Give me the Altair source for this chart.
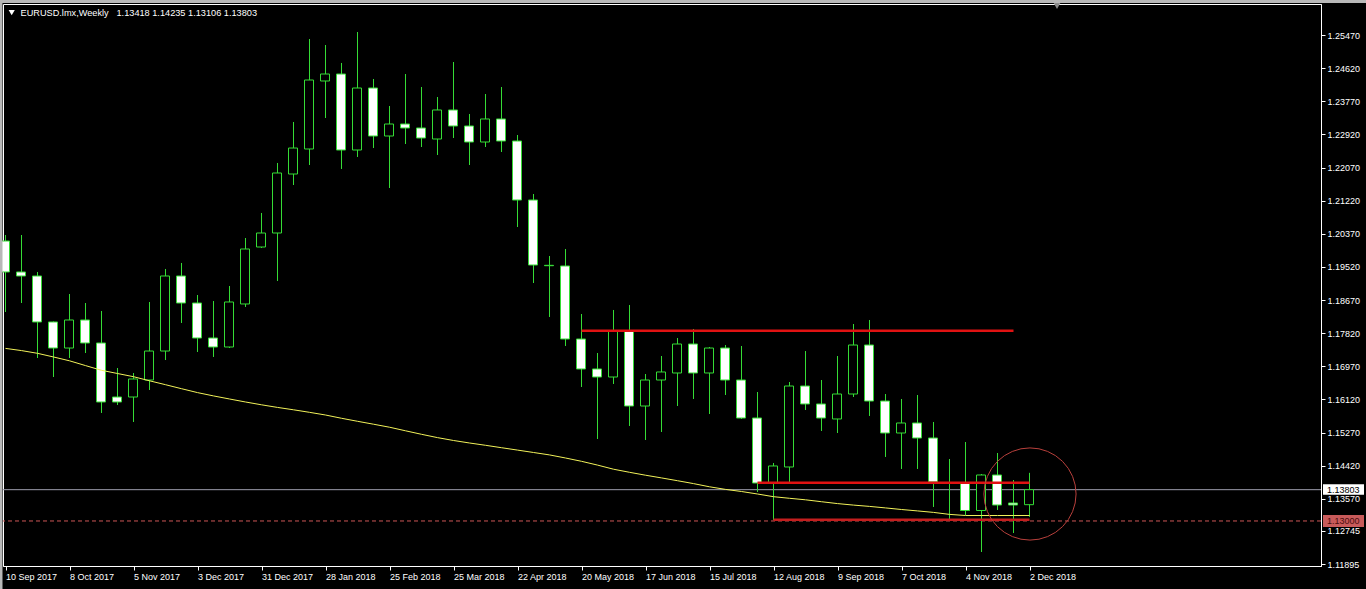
import altair as alt
import pandas as pd

# ---- weekly EURUSD candles (10 Sep 2017 .. 2 Dec 2018) ----
opens = [
    1.20184, 1.19389, 1.19286, 1.18106, 1.17438, 1.18157, 1.17567, 1.16181, 1.16181, 1.16617,
    1.17361, 1.19286, 1.18593, 1.17695, 1.17464, 1.18568, 1.20030, 1.20389, 1.21903, 1.22545,
    1.24290, 1.24469, 1.22519, 1.24110, 1.22878, 1.23186, 1.23084, 1.22801, 1.23546, 1.23135,
    1.22724, 1.23315, 1.22750, 1.21236, 1.19560, 1.19543, 1.17669, 1.16900, 1.16694, 1.17875,
    1.15950, 1.16617, 1.16797, 1.17541, 1.16797, 1.17438, 1.16617, 1.15642, 1.13974, 1.14385,
    1.16463, 1.16002, 1.15617, 1.16258, 1.17515, 1.16078, 1.15257, 1.15514, 1.15129, 1.13974,
    1.13974, 1.13269, 1.14180, 1.13461, 1.13418,
]
highs = [
    1.20338, 1.20338, 1.19389, 1.18120, 1.18824, 1.18593, 1.18388, 1.16925, 1.16797, 1.18619,
    1.19466, 1.19620, 1.18798, 1.18644, 1.19029, 1.20261, 1.20903, 1.22186, 1.23238, 1.25367,
    1.25213, 1.24752, 1.25547, 1.24341, 1.23648, 1.24469, 1.24136, 1.23879, 1.24777, 1.23443,
    1.23956, 1.24136, 1.22904, 1.21390, 1.19799, 1.19979, 1.18311, 1.17310, 1.18414, 1.18542,
    1.16771, 1.17233, 1.17695, 1.17926, 1.17464, 1.17515, 1.17490, 1.16309, 1.14488, 1.16566,
    1.17361, 1.16617, 1.17233, 1.18054, 1.18157, 1.16258, 1.16130, 1.16232, 1.15540, 1.14590,
    1.15026, 1.14205, 1.14744, 1.14051, 1.14235,
]
lows = [
    1.18362, 1.18593, 1.17182, 1.16694, 1.17182, 1.17310, 1.15771, 1.15976, 1.15540, 1.16361,
    1.17130, 1.18080, 1.17336, 1.17208, 1.17438, 1.18491, 1.20004, 1.19158, 1.21621, 1.22134,
    1.23340, 1.22032, 1.22340, 1.22570, 1.21544, 1.22673, 1.22596, 1.22391, 1.22827, 1.22134,
    1.22596, 1.22468, 1.20543, 1.19106, 1.18234, 1.17490, 1.16438, 1.15103, 1.16515, 1.15437,
    1.15078, 1.15283, 1.15950, 1.16130, 1.15745, 1.16232, 1.15617, 1.13743, 1.13025, 1.13974,
    1.15848, 1.15309, 1.15257, 1.16181, 1.15694, 1.14642, 1.14334, 1.14334, 1.13359, 1.13030,
    1.13153, 1.12204, 1.13282, 1.12691, 1.13106,
]
closes = [
    1.19389, 1.19286, 1.18106, 1.17438, 1.18157, 1.17567, 1.16053, 1.16053, 1.16643, 1.17361,
    1.19286, 1.18593, 1.17695, 1.17464, 1.18619, 1.19979, 1.20389, 1.21929, 1.22570, 1.24315,
    1.24469, 1.22519, 1.24110, 1.22878, 1.23186, 1.23084, 1.22827, 1.23546, 1.23135, 1.22724,
    1.23315, 1.22750, 1.21236, 1.19568, 1.19550, 1.17669, 1.16900, 1.16694, 1.17875, 1.15950,
    1.16617, 1.16823, 1.17541, 1.16797, 1.17438, 1.16617, 1.15642, 1.13974, 1.14411, 1.16463,
    1.16002, 1.15642, 1.16258, 1.17515, 1.16078, 1.15257, 1.15514, 1.15129, 1.14000, 1.13987,
    1.13269, 1.14180, 1.13410, 1.13410, 1.13803,
]
# moving average drawn over the candles
moving_avg = [
    1.17428, 1.17372, 1.17302, 1.17208, 1.17110, 1.16987, 1.16866, 1.16784, 1.16702, 1.16597,
    1.16497, 1.16394, 1.16294, 1.16209, 1.16130, 1.16053, 1.15981, 1.15914, 1.15853, 1.15788,
    1.15719, 1.15635, 1.15558, 1.15483, 1.15406, 1.15314, 1.15224, 1.15139, 1.15065, 1.15001,
    1.14942, 1.14880, 1.14819, 1.14757, 1.14695, 1.14616, 1.14531, 1.14434, 1.14328, 1.14249,
    1.14174, 1.14105, 1.14033, 1.13959, 1.13877, 1.13810, 1.13756, 1.13692, 1.13623, 1.13582,
    1.13543, 1.13494, 1.13446, 1.13407, 1.13374, 1.13335, 1.13294, 1.13258, 1.13220, 1.13169,
    1.13140, 1.13140, 1.13140, 1.13140, 1.13140,
]

# date labels every 4th week
week_labels = [
    "10 Sep 2017", "8 Oct 2017", "5 Nov 2017", "3 Dec 2017", "31 Dec 2017", "28 Jan 2018",
    "25 Feb 2018", "25 Mar 2018", "22 Apr 2018", "20 May 2018", "17 Jun 2018", "15 Jul 2018",
    "12 Aug 2018", "9 Sep 2018", "7 Oct 2018", "4 Nov 2018", "2 Dec 2018",
]
price_ticks = [
    1.25470, 1.24620, 1.23770, 1.22920, 1.22070, 1.21220, 1.20370, 1.19520, 1.18670,
    1.17820, 1.16970, 1.16120, 1.15270, 1.14420, 1.13570, 1.12745, 1.11895,
]

# drawn objects: horizontal levels (start week, end week, price)
bright_levels = {"start": [36, 47], "end": [63, 64], "price": [1.17882, 1.13982]}
dark_levels = {"start": [48], "end": [64], "price": [1.13033]}
bid_price = closes[-1]
alert_price = 1.13000
ellipse_center = {"week": [64.03], "price": [1.13692]}

W, H = 1318, 562
GREEN = "#35dc35"
FONT = "Liberation Sans"

candles = pd.DataFrame({
    "week": list(range(len(opens))),
    "open": opens, "high": highs, "low": lows, "close": closes, "ma": moving_avg,
})

x_scale = alt.Scale(domain=[-0.15625, 82.21875], nice=False, zero=False)
y_scale = alt.Scale(domain=[1.1184454, 1.2626546], nice=False, zero=False)

label_array = "[" + ",".join("'" + s + "'" for s in week_labels) + "]"
x_axis = alt.Axis(
    values=list(range(0, 4 * len(week_labels), 4)),
    labelExpr=label_array + "[floor(datum.value / 4 + 0.5)]",
    labelAlign="left", labelBaseline="top", labelPadding=2, labelFlush=False,
    labelOverlap=False, labelColor="white", labelFont=FONT, labelFontSize=9,
    tickSize=4, tickColor="white", domainColor="white", grid=False, title=None,
)
y_axis = alt.Axis(
    orient="right", values=price_ticks, format=".5f", labelBaseline="middle",
    labelPadding=2, labelFlush=False, labelOverlap=False, labelColor="white",
    labelFont=FONT, labelFontSize=9, tickSize=4, tickColor="white",
    domainColor="white", grid=False, title=None,
)


def xq(field):
    return alt.X(f"{field}:Q", scale=x_scale, axis=x_axis)


def yq(field):
    return alt.Y(f"{field}:Q", scale=y_scale, axis=y_axis)


one_row = pd.DataFrame({"k": [0]})

# window chrome
top_band = alt.Chart(one_row).mark_rect(color="#b8b8b8").encode(
    x=alt.value(-3), x2=alt.value(W + 48), y=alt.value(-4), y2=alt.value(-1))
left_band = alt.Chart(one_row).mark_rect(color="#b8b8b8").encode(
    x=alt.value(-3), x2=alt.value(-0.5), y=alt.value(-4), y2=alt.value(H + 23))
shift_mark = alt.Chart(one_row).mark_point(
    shape="triangle-down", filled=True, color="#8a8a8a", size=45, opacity=1
).encode(x=alt.value(1054), y=alt.value(2))

bid_line = alt.Chart(pd.DataFrame({"price": [bid_price]})).mark_rule(
    color="#9c9cac", strokeWidth=1).encode(y=yq("price"))
alert_line = alt.Chart(pd.DataFrame({"price": [alert_price]})).mark_rule(
    color="#cc5555", strokeWidth=1, strokeDash=[4, 3]).encode(y=yq("price"))

wicks = alt.Chart(candles).mark_rule(color=GREEN, strokeWidth=1).encode(
    x=xq("week"), y=yq("low"), y2="high:Q")
bodies = alt.Chart(candles).mark_rect(
    xOffset=-5, x2Offset=4, stroke=GREEN, strokeWidth=1
).encode(
    x=xq("week"), x2="week:Q", y=yq("open"), y2="close:Q",
    fill=alt.condition("datum.open > datum.close", alt.value("white"), alt.value("black")),
)
ma_line = alt.Chart(candles).mark_line(color="#f2f25a", strokeWidth=1).encode(
    x=xq("week"), y=yq("ma"))

bright = alt.Chart(pd.DataFrame(bright_levels)).mark_rule(
    color="#e01212", strokeWidth=2.5).encode(x=xq("start"), x2="end:Q", y=yq("price"))
dark = alt.Chart(pd.DataFrame(dark_levels)).mark_rule(
    color="#c41e1e", strokeWidth=2.5).encode(x=xq("start"), x2="end:Q", y=yq("price"))
ellipse = alt.Chart(pd.DataFrame(ellipse_center)).mark_point(
    shape="circle", size=8495, filled=False, color="#b8403c", strokeWidth=1, opacity=1
).encode(x=xq("week"), y=yq("price"))

# price tags on the right scale
tags = pd.DataFrame({"price": [bid_price, alert_price]})
bid_tag = alt.Chart(tags.iloc[[0]]).mark_rect(fill="white", yOffset=-5.5, y2Offset=5).encode(
    x=alt.value(W + 2), x2=alt.value(W + 43), y=yq("price"), y2="price:Q")
bid_text = alt.Chart(tags.iloc[[0]]).mark_text(
    align="left", baseline="middle", font=FONT, fontSize=9, color="black").encode(
    x=alt.value(W + 6), y=yq("price"), text=alt.Text("price:Q", format=".5f"))
alert_tag = alt.Chart(tags.iloc[[1]]).mark_rect(fill="#c85a5a", yOffset=-6, y2Offset=6).encode(
    x=alt.value(W + 2), x2=alt.value(W + 43), y=yq("price"), y2="price:Q")
alert_text = alt.Chart(tags.iloc[[1]]).mark_text(
    align="left", baseline="middle", font=FONT, fontSize=9, color="#4a0c0c").encode(
    x=alt.value(W + 6), y=yq("price"), text=alt.Text("price:Q", format=".5f"))

# header: symbol, timeframe and OHLC of the last bar
ohlc_text = " ".join(f"{v:.5f}" for v in (opens[-1], highs[-1], lows[-1], closes[-1]))
arrow = alt.Chart(one_row).mark_point(
    shape="triangle-down", filled=True, color="white", size=38, opacity=1
).encode(x=alt.value(8.7), y=alt.value(8.6))
symbol = alt.Chart(one_row).mark_text(
    align="left", baseline="alphabetic", font=FONT, fontSize=9.2, color="white"
).encode(x=alt.value(17.5), y=alt.value(12), text=alt.value("EURUSD.lmx,Weekly"))
ohlc = alt.Chart(one_row).mark_text(
    align="left", baseline="alphabetic", font=FONT, fontSize=9.2, color="white"
).encode(x=alt.value(113.5), y=alt.value(12), text=alt.value(ohlc_text))

chart = alt.layer(
    bid_line, alert_line, wicks, bodies, ma_line, bright, dark, ellipse,
    bid_tag, bid_text, alert_tag, alert_text, top_band, left_band, shift_mark,
    arrow, symbol, ohlc,
).properties(
    width=W, height=H,
    padding={"left": 3, "top": 4, "right": 45, "bottom": 23},
    autosize=alt.AutoSizeParams(type="none"),
    background="black",
).configure_view(stroke="white", strokeWidth=1, fill="black")

chart.save("out.html", embed_options={"renderer": "svg", "actions": False})
